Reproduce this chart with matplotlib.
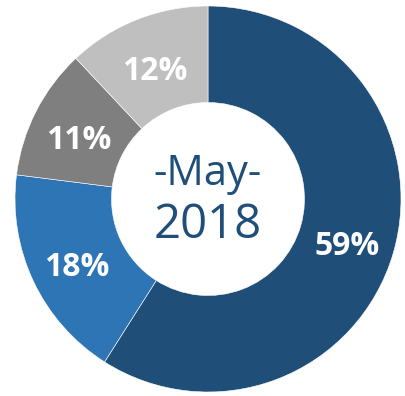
import matplotlib.pyplot as plt

# share by month, May 2018
labels = ["A", "B", "C", "D"]
values = [59, 18, 11, 12]
colors = ["#1F4E79", "#2E75B6", "#7F7F7F", "#BFBFBF"]
month = "-May-"
year = "2018"

plt.rcParams['font.family'] = ['Open Sans', 'DejaVu Sans']

fig = plt.figure(figsize=(4.05, 3.96), dpi=100)
ax = fig.add_axes([0, 0, 1, 1])

total = sum(values)
wedges, texts, autotexts = ax.pie(
    values, colors=colors, startangle=90, counterclock=False,
    radius=1.0, autopct=lambda p: '%d%%' % round(p * total / 100), pctdistance=0.75,
    wedgeprops=dict(width=0.5, edgecolor='white', linewidth=0.4),
    textprops=dict(color='white', fontsize=23, weight='bold'))

# nudge the percentage labels down a little
for t in autotexts:
    x, y = t.get_position()
    t.set_position((x, y - 0.035))

ax.text(0, 0.13, month, ha='center', va='center', fontsize=30, color='#1F4E79')
ax.text(0, -0.135, year, ha='center', va='center', fontsize=34, color='#1F4E79')

r = 193.0
ax.set_aspect('auto')
ax.set_xlim(-208 / r, (405 - 208) / r)
ax.set_ylim(-(396 - 199) / r, 199 / r)
ax.axis('off')

fig.savefig('out.png', dpi=100)
